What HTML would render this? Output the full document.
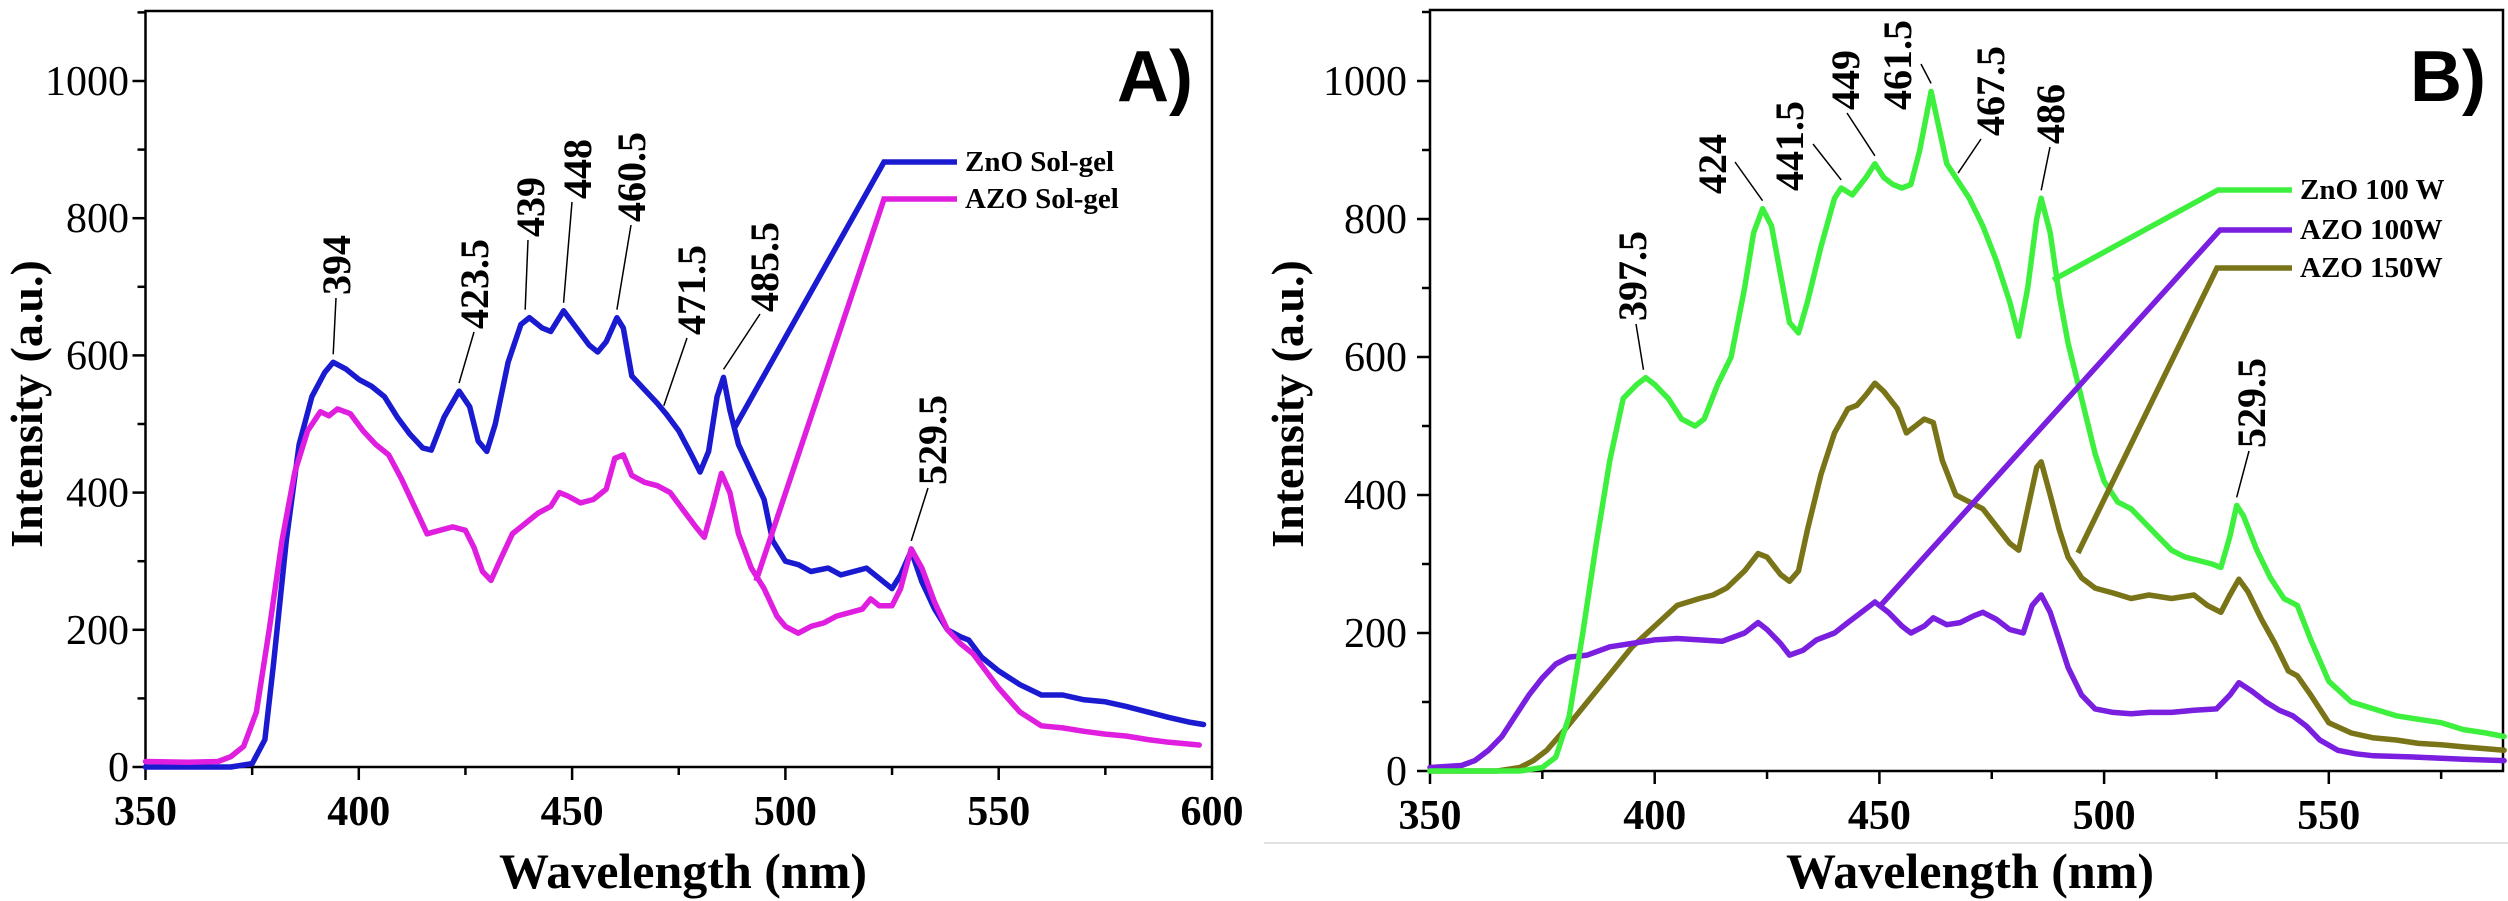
<!DOCTYPE html>
<html><head><meta charset="utf-8"><style>
html,body{margin:0;padding:0;background:#fff;}
svg{display:block;}
</style></head><body>
<svg id="chart" width="2508" height="901" viewBox="0 0 2508 901" xmlns="http://www.w3.org/2000/svg"></svg>
<script>
// ---------- Panel A data ----------
const aZnoWl=[350,370,375,378,380,383,386,389,392,394,397,400,403,406,409,412,415,417,420,423.5,426,428,430,432,435,438,440,443,445,448,451,454,456,458,460.5,462,464,467,470,472,475,478,480,482,484,485.5,487,489,492,495,497,500,503,506,510,513,516,519,522,525,527,529.5,532,535,538,541,543,546,550,555,560,565,570,575,580,585,590,595,598];
const aZnoVal=[0,0,5,40,150,330,470,540,575,590,580,565,555,540,510,485,465,462,510,548,525,475,460,500,590,645,655,640,635,665,640,615,605,620,655,640,570,550,530,515,490,455,430,460,540,568,520,470,430,390,330,300,295,285,290,280,285,290,275,260,280,315,270,230,200,190,185,160,140,120,105,105,98,95,88,80,72,65,62];
const aAzoWl=[350,360,367,370,373,376,379,382,385,388,391,393,395,398,401,404,407,410,413,416,419,422,425,427,429,431,433,436,439,442,445,447,449,452,455,458,460,462,464,467,470,473,476,479,481,483,485,487,489,492,495,498,500,503,506,509,512,515,518,520,522,525,527,529.5,532,535,538,541,544,547,550,555,560,565,570,575,580,585,590,597];
const aAzoVal=[8,7,8,15,30,80,200,330,430,490,518,512,522,515,490,470,455,420,380,340,345,350,345,320,285,272,300,340,355,370,380,400,395,385,390,405,450,455,425,415,410,400,375,350,335,380,428,400,340,290,260,220,205,195,205,210,220,225,230,245,235,235,260,318,290,240,200,180,165,140,115,80,60,57,52,48,45,40,36,32];
const aPeakWl=[394,423.5,439,448,460.5,471.5,485.5,529.5];
const aPeakVal=[590,548,655,665,655,515,568,318];
const aPeakText=["394","423.5","439","448","460.5","471.5","485.5","529.5"];
// ---------- Panel B data ----------
const bZnoWl=[350,370,375,378,381,384,387,390,393,396,398,400,403,406,409,411,414,417,420,422,424,426,428,430,432,434,437,440,441.5,444,447,449,451,453,455,457,459,461.5,463,465,467.5,470,473,476,479,481,483,485,486,488,490,492,495,498,500,503,506,509,512,515,518,521,524,526,528,529.5,531,534,537,540,543,546,550,555,560,565,570,575,580,585,589];
const bZnoVal=[0,0,5,20,80,200,330,450,540,560,570,560,540,510,500,510,560,600,700,780,815,790,720,650,635,680,760,830,845,835,860,880,860,850,845,850,900,985,940,880,855,830,790,740,680,630,700,800,830,780,690,620,540,460,420,390,380,360,340,320,310,305,300,295,340,385,370,320,280,250,240,190,130,100,90,80,75,70,60,55,50];
const bAzo1Wl=[350,357,360,363,366,369,372,375,378,381,385,390,395,400,405,410,415,420,423,425,428,430,433,436,440,443,446,449,452,455,457,460,462,465,468,471,473,476,479,482,484,486,488,490,492,495,498,502,506,510,515,520,525,528,530,533,536,539,542,545,548,552,556,560,570,580,589];
const bAzo1Val=[5,8,15,30,50,80,110,135,155,165,168,180,185,190,192,190,188,200,215,205,185,168,175,190,200,215,230,245,230,210,200,210,222,212,215,225,230,220,205,200,240,255,230,190,150,110,90,85,83,85,85,88,90,110,128,115,100,88,80,65,45,30,25,22,20,17,15];
const bAzo2Wl=[350,365,370,373,376,380,385,390,395,400,405,410,413,416,420,423,425,428,430,432,434,437,440,443,445,447,449,451,454,456,458,460,462,464,467,470,473,476,479,481,483,485,486,488,490,492,495,498,502,506,510,515,520,523,526,528,530,532,535,538,541,543,546,550,555,560,565,570,575,580,589];
const bAzo2Val=[0,0,5,15,30,60,100,140,180,210,240,250,255,265,290,315,310,285,275,290,350,430,490,525,530,545,562,550,525,490,500,510,505,450,400,390,380,355,330,320,380,440,448,400,350,310,280,265,258,250,255,250,255,240,230,255,278,260,220,185,145,138,110,70,55,48,45,40,38,35,30];
const bPeakWl=[397.5,424,441.5,449,461.5,467.5,486,529.5];
const bPeakVal=[570,815,845,880,985,855,830,385];
const bPeakText=["397.5","424","441.5","449","461.5","467.5","486","529.5"];
// tick labels
const aXTicks=[350,400,450,500,550,600];
const bXTicks=[350,400,450,500,550];
const yTicks=[0,200,400,600,800,1000];

const NS="http://www.w3.org/2000/svg";
const svg=document.getElementById('chart');
function mk(tag,attrs,parent){const e=document.createElementNS(NS,tag);for(const k in attrs)e.setAttribute(k,attrs[k]);(parent||svg).appendChild(e);return e;}

const panels={
 A:{x0:145.5,pxnm:4.266,y0:767,pxv:0.686,right:1212,top:11,wlMax:600,minorMax:600},
 B:{x0:1430,pxnm:4.494,y0:771,pxv:0.690,right:2503,top:10,wlMax:588.8,minorMax:575}
};
function xs(p,w){return p.x0+(w-350)*p.pxnm;}
function ys(p,v){return p.y0-v*p.pxv;}

function drawAxes(key,xt,labelRight){
 const p=panels[key];
 const g=mk('g',{});
 
 
 const f=mk('rect',{x:p.x0,y:p.top,width:p.right-p.x0,height:p.y0-p.top,fill:'none',stroke:'#000','stroke-width':2.5},g);
 
 
 for(let w=350;w<=p.minorMax;w+=25){
  const maj=(w%50===0);
  const t=mk('line',{x1:xs(p,w),x2:xs(p,w),y1:p.y0,y2:p.y0+(maj?13:8),stroke:'#000','stroke-width':2.5},g);
  
  
 }
 xt.forEach(w=>{
  const t=mk('text',{x:xs(p,w),y:p.y0+58,'text-anchor':'middle','font-family':'Liberation Serif, serif','font-size':42,'font-weight':'bold'},g);
  t.textContent=w;
  
  
 });
 for(let v=0;v<=1100;v+=100){
  const maj=(v%200===0);
  const t=mk('line',{x1:p.x0,x2:p.x0-(maj?13:8),y1:ys(p,v),y2:ys(p,v),stroke:'#000','stroke-width':2.5},g);
  
  
 }
 yTicks.forEach(v=>{
  const t=mk('text',{x:labelRight,y:ys(p,v)+14,'text-anchor':'end','font-family':'Liberation Serif, serif','font-size':42},g);
  t.textContent=v;
  
  
 });
 const xt2=mk('text',{x:key==='A'?683:1970,y:888,'text-anchor':'middle','font-family':'Liberation Serif, serif','font-size':50,'font-weight':'bold'},g);
 xt2.textContent='Wavelength (nm)';
 
 
 const yx=key==='A'?42:1303, yy=404;
 const yt=mk('text',{x:yx,y:yy,'text-anchor':'middle','font-family':'Liberation Serif, serif','font-size':46,'font-weight':'bold',transform:`rotate(-90 ${yx} ${yy})`},g);
 yt.textContent='Intensity (a.u.)';
 
 
}

function drawSeries(key,wl,val,color,name){
 const p=panels[key];
 let d='';
 for(let i=0;i<wl.length;i++){d+=(i?'L':'M')+xs(p,wl[i]).toFixed(1)+','+ys(p,val[i]).toFixed(1);}
 const path=mk('path',{d:d,fill:'none',stroke:color,'stroke-width':5.5,'stroke-linejoin':'round','stroke-linecap':'round'});
 
 
}

function drawLegend(pts,color,label,name){
 const path=mk('polyline',{points:pts.map(q=>q.join(',')).join(' '),fill:'none',stroke:color,'stroke-width':5.5});
 
 
 const last=pts[pts.length-1];
 const t=mk('text',{x:last[0]+8,y:last[1]+9,'font-family':'Liberation Serif, serif','font-size':29,'font-weight':'bold'});
 t.textContent=label;
 
 
}

const aLayout=[[336,295,[336,298]],[474,329,[474,332]],[530,237,[528,240]],[577,199,[572,202]],[631,222,[631,225]],[691,335,[687,338]],[764,312,[760,314]],[932,485,[928,488]]];
const bLayout=[[1632,321,[1636,324]],[1712,194,[1735,162]],[1789,191,[1813,144]],[1845,110,[1847,113]],[1897,110,[1921,64]],[1990,136,[1981,139]],[2050,144,[2050,147]],[2251,448,[2249,451]]];

function drawPeaks(key,wl,val,txt,layout){
 const p=panels[key];
 for(let i=0;i<wl.length;i++){
  const [tx,ty,ls]=layout[i];
  const ln=mk('line',{x1:ls[0],y1:ls[1],x2:xs(p,wl[i]),y2:ys(p,val[i])-8,stroke:'#000','stroke-width':1.5});
  
  
  const t=mk('text',{x:tx+14,y:ty,'font-family':'Liberation Serif, serif','font-size':40,'font-weight':'bold',transform:`rotate(-90 ${tx+14} ${ty})`});
  t.textContent=txt[i];
  
  
 }
}

const sep=mk('line',{x1:1264,x2:2508,y1:843,y2:843,stroke:'#e2e2e2','stroke-width':2});



drawAxes('A',aXTicks,129);
drawAxes('B',bXTicks,1407);

drawSeries('A',aZnoWl,aZnoVal,'#1a1ad0','series-zno-sol-gel');
drawSeries('A',aAzoWl,aAzoVal,'#e01ee0','series-azo-sol-gel');
drawSeries('B',bAzo2Wl,bAzo2Val,'#7a7418','series-azo-150w');
drawSeries('B',bAzo1Wl,bAzo1Val,'#7a1ee0','series-azo-100w');
drawSeries('B',bZnoWl,bZnoVal,'#3ef03e','series-zno-100w');

drawLegend([[735,427],[884,162],[957,162]],'#1a1ad0','ZnO Sol-gel','legend-zno-sol-gel');
drawLegend([[756,581],[884,199],[957,199]],'#e01ee0','AZO Sol-gel','legend-azo-sol-gel');
drawLegend([[2053,280],[2218,190],[2292,190]],'#3ef03e','ZnO 100 W','legend-zno-100w');
drawLegend([[1881,605],[2220,230],[2292,230]],'#7a1ee0','AZO 100W','legend-azo-100w');
drawLegend([[2078,553],[2217,268],[2292,268]],'#7a7418','AZO 150W','legend-azo-150w');

drawPeaks('A',aPeakWl,aPeakVal,aPeakText,aLayout);
drawPeaks('B',bPeakWl,bPeakVal,bPeakText,bLayout);

[['A)',1117,101,'panel-a-label'],['B)',2410,101,'panel-b-label']].forEach(([s,x,y,n])=>{
 const t=mk('text',{x:x,y:y,'font-family':'Liberation Sans, sans-serif','font-size':72,'font-weight':'bold'});
 t.textContent=s;
 
 
});
</script>
</body></html>
